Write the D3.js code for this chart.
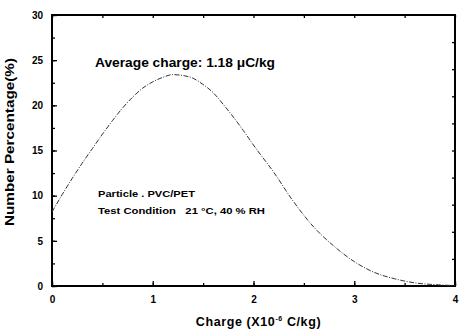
<!DOCTYPE html>
<html>
<head>
<meta charset="utf-8">
<script src="https://cdn.jsdelivr.net/npm/d3@7"></script>
<style>
  body { margin: 0; background: #fff; }
  text { font-family: "Liberation Sans", Arial, sans-serif; font-weight: bold; fill: #000; }
</style>
</head>
<body>
<div id="chart"></div>
<script>
// charge (x10^-6 C/kg) and number percentage
const charge  = [0, 0.1, 0.2, 0.3, 0.4, 0.5, 0.6, 0.7, 0.8, 0.9, 1.0, 1.1, 1.2, 1.3, 1.4, 1.5, 1.6, 1.7, 1.8, 1.9, 2.0, 2.2, 2.4, 2.6, 2.8, 3.0, 3.2, 3.4, 3.6, 3.8, 4.0];
const percent = [8.2, 10.1, 11.9, 13.6, 15.2, 16.8, 18.3, 19.7, 20.9, 21.9, 22.6, 23.1, 23.4, 23.3, 23.0, 22.3, 21.4, 20.1, 18.7, 17.2, 15.6, 12.6, 9.3, 6.5, 4.4, 2.7, 1.5, 0.8, 0.35, 0.15, 0.05];
const xTicks = [0, 1, 2, 3, 4];
const yTicks = [0, 5, 10, 15, 20, 25, 30];

const margin = { top: 15, right: 5, bottom: 44, left: 52 },
      width = 460 - margin.left - margin.right,
      height = 330 - margin.top - margin.bottom;

const svg = d3.select('#chart')
  .append('svg')
  .attr('width', 460)
  .attr('height', 330)
  .append('g')
  .attr('transform', `translate(${margin.left},${margin.top})`);

const x = d3.scaleLinear().domain([0, 4]).range([0, width]);
const y = d3.scaleLinear().domain([0, 30]).range([height, 0]);

// inward ticks on all four sides
const minorX = d3.range(0, 4.01, 0.5);
const minorY = d3.range(0, 30.01, 2.5);

svg.append('g')
  .attr('transform', `translate(0,${height})`)
  .call(d3.axisBottom(x).tickValues(minorX).tickSize(-3).tickFormat(''))
  .call(g => g.select('.domain').remove());
svg.append('g')
  .attr('transform', `translate(0,${height})`)
  .call(d3.axisBottom(x).tickValues(xTicks).tickSize(-5).tickPadding(10).tickFormat(d3.format('d')))
  .call(g => g.select('.domain').remove())
  .call(g => g.selectAll('text').style('font-size', '10px'));

svg.append('g')
  .call(d3.axisTop(x).tickValues(minorX).tickSize(-3).tickFormat(''))
  .call(g => g.select('.domain').remove());

svg.append('g')
  .call(d3.axisLeft(y).tickValues(minorY).tickSize(-3).tickFormat(''))
  .call(g => g.select('.domain').remove());
svg.append('g')
  .call(d3.axisLeft(y).tickValues(yTicks).tickSize(-5).tickPadding(9).tickFormat(d3.format('d')))
  .call(g => g.select('.domain').remove())
  .call(g => g.selectAll('text').style('font-size', '10px'));

svg.append('g')
  .attr('transform', `translate(${width},0)`)
  .call(d3.axisRight(y).tickValues(d3.range(3, 30, 3)).tickSize(-3).tickFormat(''))
  .call(g => g.select('.domain').remove());

svg.selectAll('.tick line').attr('stroke', '#000').attr('stroke-width', 1.3);

// frame
svg.append('rect')
  .attr('width', width)
  .attr('height', height)
  .attr('fill', 'none')
  .attr('stroke', '#000')
  .attr('stroke-width', 2);

// distribution curve
const line = d3.line()
  .x((d, i) => x(charge[i]))
  .y(d => y(d))
  .curve(d3.curveMonotoneX);

svg.append('path')
  .datum(percent)
  .attr('fill', 'none')
  .attr('stroke', '#333')
  .attr('stroke-width', 1)
  .attr('stroke-dasharray', '5,1.5,1,1.5')
  .attr('d', line);

// annotations
svg.append('text')
  .attr('x', 43)
  .attr('y', 52)
  .attr('textLength', 180)
  .attr('lengthAdjust', 'spacingAndGlyphs')
  .style('font-size', '13px')
  .text('Average charge: 1.18 \u03BCC/kg');

svg.append('text')
  .attr('x', 46)
  .attr('y', 182)
  .attr('textLength', 97)
  .attr('lengthAdjust', 'spacingAndGlyphs')
  .style('font-size', '9.5px')
  .text('Particle . PVC/PET');

svg.append('text')
  .attr('x', 46)
  .attr('y', 199)
  .attr('textLength', 167)
  .attr('lengthAdjust', 'spacingAndGlyphs')
  .style('font-size', '9.5px')
  .attr('xml:space', 'preserve')
  .text('Test Condition   21 \u00B0C, 40 % RH');

// axis labels
const xl = svg.append('text')
  .attr('x', width / 2 + 5)
  .attr('y', height + 40)
  .attr('text-anchor', 'middle')
  .style('font-size', '12.5px')
  .style('letter-spacing', '0.6px');
xl.append('tspan').text('Charge (X10');
xl.append('tspan').attr('dy', -5).style('font-size', '7px').text('-6');
xl.append('tspan').attr('dy', 5).text(' C/kg)');

svg.append('text')
  .attr('transform', 'rotate(-90)')
  .attr('x', -(142 - margin.top))
  .attr('y', -38)
  .attr('text-anchor', 'middle')
  .attr('textLength', 168)
  .attr('lengthAdjust', 'spacingAndGlyphs')
  .style('font-size', '12.5px')
  .text('Number Percentage(%)');
</script>
</body>
</html>
